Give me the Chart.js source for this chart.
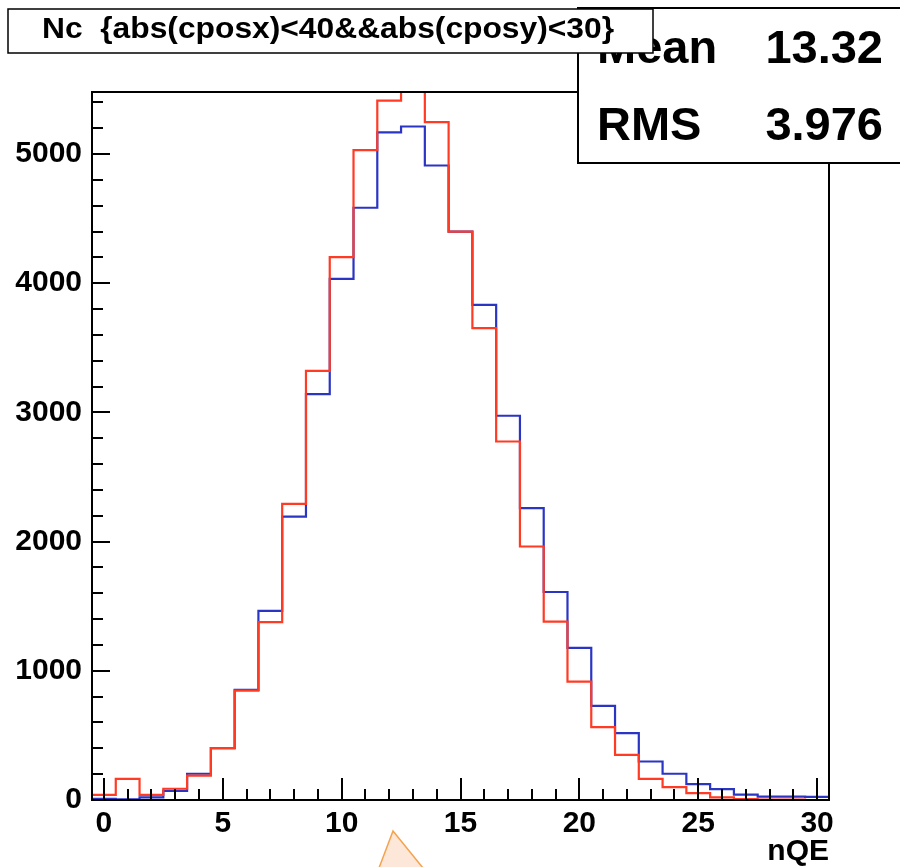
<!DOCTYPE html>
<html>
<head>
<meta charset="utf-8">
<script src="https://cdn.jsdelivr.net/npm/chart.js@4.4.0/dist/chart.umd.min.js"></script>
<style>
  html, body { margin: 0; padding: 0; background: #fff; }
</style>
</head>
<body>
<canvas id="chartNqe" width="900" height="867"></canvas>
<script>
// --- data ---
const binCenters = [0, 1, 2, 3, 4, 5, 6, 7, 8, 9, 10, 11, 12, 13, 14, 15,
                    16, 17, 18, 19, 20, 21, 22, 23, 24, 25, 26, 27, 28, 29, 30];
const blueCounts = [8, 5, 20, 71, 203, 401, 853, 1464, 2194, 3141, 4034, 4584, 5167, 5213, 4911, 4400,
                    3833, 2974, 2259, 1610, 1178, 729, 518, 298, 203, 123, 84, 42, 26, 26, 24];
const redCounts  = [40, 164, 40, 87, 188, 401, 847, 1377, 2292, 3322, 4202, 5030, 5414, 5650, 5247, 4400,
                    3652, 2775, 1962, 1380, 917, 564, 350, 164, 100, 53, 20, 6, 4, 4, 0];
const xTicks = [0, 5, 10, 15, 20, 25, 30];
const yTicks = [0, 1000, 2000, 3000, 4000, 5000];
const statNames = ["Mean", "RMS"];
const statValues = ["13.32", "3.976"];
const titleText = "Nc  {abs(cposx)<40&&abs(cposy)<30}";

const FONT = "'Liberation Sans', Arial, Helvetica, sans-serif";

// histogram outline: one point per bin's left edge, plus the last right edge
function stepPoints(counts) {
  const pts = binCenters.map((c, i) => ({ x: c - 0.5, y: counts[i] }));
  pts.push({ x: binCenters[binCenters.length - 1] + 0.5, y: counts[counts.length - 1] });
  return pts;
}

// ROOT-ish frame, tick marks, stats box, title box
const rootDecor = {
  id: "rootDecor",
  afterDatasetsDraw(chart) {
    const ctx = chart.ctx;
    const a = chart.chartArea;
    const xs = chart.scales.x, ys = chart.scales.y;
    ctx.save();
    ctx.strokeStyle = "#000";
    ctx.lineWidth = 2;

    // frame
    ctx.strokeRect(a.left, a.top, a.right - a.left, a.bottom - a.top);

    // y ticks (major 1000, minor 200)
    ctx.beginPath();
    for (let v = 0; v <= ys.max; v += 200) {
      const py = Math.round(ys.getPixelForValue(v));
      const len = v % 1000 === 0 ? 18 : 11;
      ctx.moveTo(a.left, py);
      ctx.lineTo(a.left + len, py);
    }
    // x ticks (major 5, minor 1)
    for (let v = 0; v <= xs.max; v += 1) {
      const px = Math.round(xs.getPixelForValue(v));
      const len = v % 5 === 0 ? 22 : 11;
      ctx.moveTo(px, a.bottom);
      ctx.lineTo(px, a.bottom - len);
    }
    ctx.stroke();

    // stats box
    ctx.fillStyle = "#fff";
    ctx.fillRect(578, 8, 330, 155);
    ctx.strokeRect(578, 8, 330, 155);
    ctx.fillStyle = "#000";
    ctx.font = "bold 47px " + FONT;
    ctx.textBaseline = "alphabetic";
    statNames.forEach((n, i) => {
      const by = 63 + i * 77;
      ctx.textAlign = "left";
      ctx.fillText(n, 597, by);
      ctx.textAlign = "right";
      ctx.fillText(statValues[i], 883, by);
    });

    // title box
    ctx.fillStyle = "#fff";
    ctx.fillRect(8, 9, 645, 44);
    ctx.lineWidth = 1.5;
    ctx.strokeRect(8, 9, 645, 44);
    ctx.fillStyle = "#000";
    ctx.font = "bold 29px " + FONT;
    const w = ctx.measureText(titleText).width;
    ctx.save();
    ctx.translate(328, 30);
    ctx.scale(572 / w, 1);
    ctx.textAlign = "center";
    ctx.textBaseline = "middle";
    ctx.fillText(titleText, 0, 0);
    ctx.restore();

    // orange pointer at the bottom
    ctx.beginPath();
    ctx.moveTo(379, 868);
    ctx.lineTo(393, 831);
    ctx.lineTo(423, 868);
    ctx.fillStyle = "#fde7d8";
    ctx.fill();
    ctx.strokeStyle = "#f5a24e";
    ctx.lineWidth = 1.5;
    ctx.stroke();
    ctx.restore();
  }
};

new Chart(document.getElementById("chartNqe"), {
  type: "line",
  data: {
    datasets: [
      {
        label: "red",
        data: stepPoints(redCounts),
        borderColor: "#ff3b24",
        borderWidth: 2.2,
        stepped: true,
        pointRadius: 0,
        fill: false
      },
      {
        label: "blue",
        data: stepPoints(blueCounts),
        borderColor: "#2b35c4",
        borderWidth: 2.2,
        stepped: true,
        pointRadius: 0,
        fill: false
      }
    ]
  },
  options: {
    responsive: false,
    animation: false,
    devicePixelRatio: 1,
    layout: { padding: { left: 0, right: 71, top: 92, bottom: 0 } },
    plugins: { legend: { display: false }, tooltip: { enabled: false } },
    scales: {
      x: {
        type: "linear",
        min: -0.5,
        max: 30.5,
        grid: { display: false },
        border: { display: false },
        afterBuildTicks: s => { s.ticks = xTicks.map(v => ({ value: v })); },
        afterFit: s => { s.height = 67; },
        ticks: {
          color: "#000",
          font: { family: FONT, size: 30, weight: "bold" },
          padding: -2,
          maxRotation: 0,
          autoSkip: false,
          callback: v => String(v)
        },
        title: {
          display: true,
          text: "nQE",
          align: "end",
          color: "#000",
          font: { family: FONT, size: 30, weight: "bold", lineHeight: 1 },
          padding: 0
        }
      },
      y: {
        min: 0,
        max: 5480,
        grid: { display: false },
        border: { display: false },
        afterBuildTicks: s => { s.ticks = yTicks.map(v => ({ value: v })); },
        afterFit: s => { s.width = 92; },
        ticks: {
          color: "#000",
          font: { family: FONT, size: 30, weight: "bold" },
          padding: 2,
          callback: v => String(v)
        }
      }
    }
  },
  plugins: [rootDecor]
});
</script>
</body>
</html>
